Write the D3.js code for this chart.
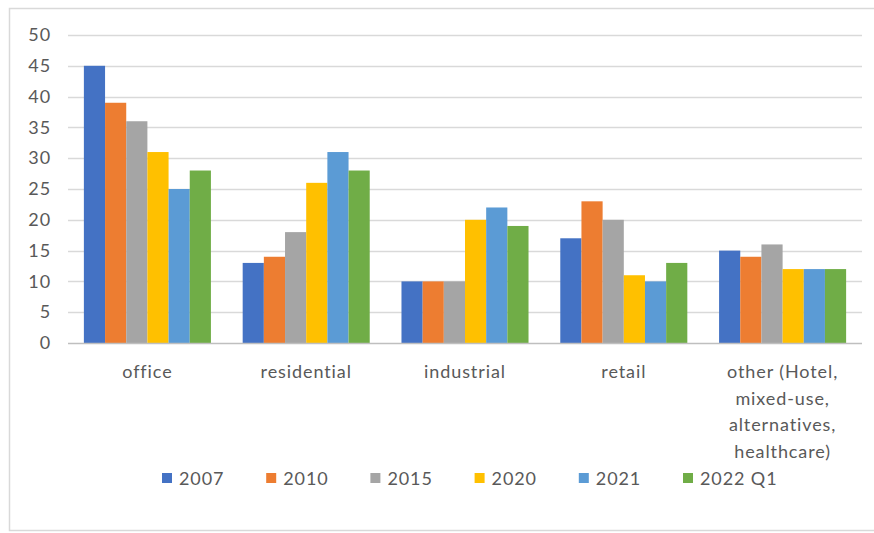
<!DOCTYPE html>
<html>
<head>
<meta charset="utf-8">
<script src="https://cdn.jsdelivr.net/npm/d3@7"></script>
<style>
  html, body { margin: 0; padding: 0; background: #fff; }
  svg { display: block; }
  text { font-family: Lato, "Open Sans", sans-serif; fill: #595959; letter-spacing: 0.9px; }
</style>
</head>
<body>
<div id="chart"></div>
<script>
// Property sectors (multi-line category names) and the years shown
const categories = [
  ["office"],
  ["residential"],
  ["industrial"],
  ["retail"],
  ["other (Hotel,", "mixed-use,", "alternatives,", "healthcare)"]
];
const seriesNames = ["2007", "2010", "2015", "2020", "2021", "2022 Q1"];
const colors = ["#4472C4", "#ED7D31", "#A5A5A5", "#FFC000", "#5B9BD5", "#70AD47"];

// Share per sector, one array per year
const v2007   = [45, 13, 10, 17, 15];
const v2010   = [39, 14, 10, 23, 14];
const v2015   = [36, 18, 10, 20, 16];
const v2020   = [31, 26, 20, 11, 12];
const v2021   = [25, 31, 22, 10, 12];
const v2022Q1 = [28, 28, 19, 13, 12];
const seriesValues = [v2007, v2010, v2015, v2020, v2021, v2022Q1];

const yTicks = [0, 5, 10, 15, 20, 25, 30, 35, 40, 45, 50];

const W = 874, H = 533;
const plot = { left: 68, right: 862, top: 35, bottom: 343 };
const FS = 18;

const svg = d3.select("#chart").append("svg").attr("width", W).attr("height", H);

// Chart frame
svg.append("rect")
  .attr("x", 9.5).attr("y", 8.5)
  .attr("width", W + 10).attr("height", 522)
  .attr("fill", "none").attr("stroke", "#D9D9D9").attr("stroke-width", 1.5);

const catKeys = categories.map((c, i) => i);
const x0 = d3.scaleBand().domain(catKeys).range([plot.left, plot.right]).paddingInner(0.2).paddingOuter(0.1);
const x1 = d3.scaleBand().domain(seriesNames).range([0, x0.bandwidth()]).padding(0);
const y = d3.scaleLinear().domain([0, 50]).range([plot.bottom, plot.top]);

// Horizontal gridlines
svg.append("g").selectAll("line").data(yTicks.filter(t => t > 0)).join("line")
  .attr("x1", plot.left).attr("x2", plot.right)
  .attr("y1", d => Math.round(y(d)) + 0.5).attr("y2", d => Math.round(y(d)) + 0.5)
  .attr("stroke", "#D9D9D9").attr("stroke-width", 1.3);

// Y axis labels
const yAxis = d3.axisLeft(y).tickValues(yTicks).tickSize(0).tickPadding(0);
const gy = svg.append("g").attr("transform", `translate(${plot.left - 17},0)`).call(yAxis);
gy.select(".domain").remove();
gy.selectAll("text").attr("font-size", FS).style("font-family", "Lato, sans-serif").attr("fill", "#595959");

// Bars
const groups = svg.append("g").selectAll("g").data(catKeys).join("g")
  .attr("transform", d => `translate(${x0(d)},0)`);
groups.selectAll("rect")
  .data(ci => seriesNames.map((s, si) => ({ s, si, v: seriesValues[si][ci] })))
  .join("rect")
  .attr("x", d => x1(d.s))
  .attr("width", x1.bandwidth())
  .attr("y", d => y(d.v))
  .attr("height", d => y(0) - y(d.v))
  .attr("fill", d => colors[d.si]);

// Category axis line
svg.append("line")
  .attr("x1", plot.left).attr("x2", plot.right)
  .attr("y1", y(0) + 0.5).attr("y2", y(0) + 0.5)
  .attr("stroke", "#BFBFBF").attr("stroke-width", 1.3);

// Category labels
const xAxisLabels = svg.append("g").selectAll("text").data(catKeys).join("text")
  .attr("x", d => x0(d) + x0.bandwidth() / 2)
  .attr("y", 378)
  .attr("text-anchor", "middle")
  .attr("font-size", FS);
xAxisLabels.selectAll("tspan").data(d => categories[d]).join("tspan")
  .attr("x", function() { return d3.select(this.parentNode).attr("x"); })
  .attr("dy", (d, i) => i === 0 ? 0 : 26.7)
  .text(d => d);

// Legend
const legend = svg.append("g").selectAll("g").data(seriesNames).join("g")
  .attr("transform", (d, i) => `translate(${162 + i * 104.2},478)`);
legend.append("rect").attr("x", 0).attr("y", -5).attr("width", 10).attr("height", 10)
  .attr("fill", (d, i) => colors[i]);
legend.append("text").attr("x", 17).attr("y", 6.5).attr("font-size", FS).text(d => d);
</script>
</body>
</html>
